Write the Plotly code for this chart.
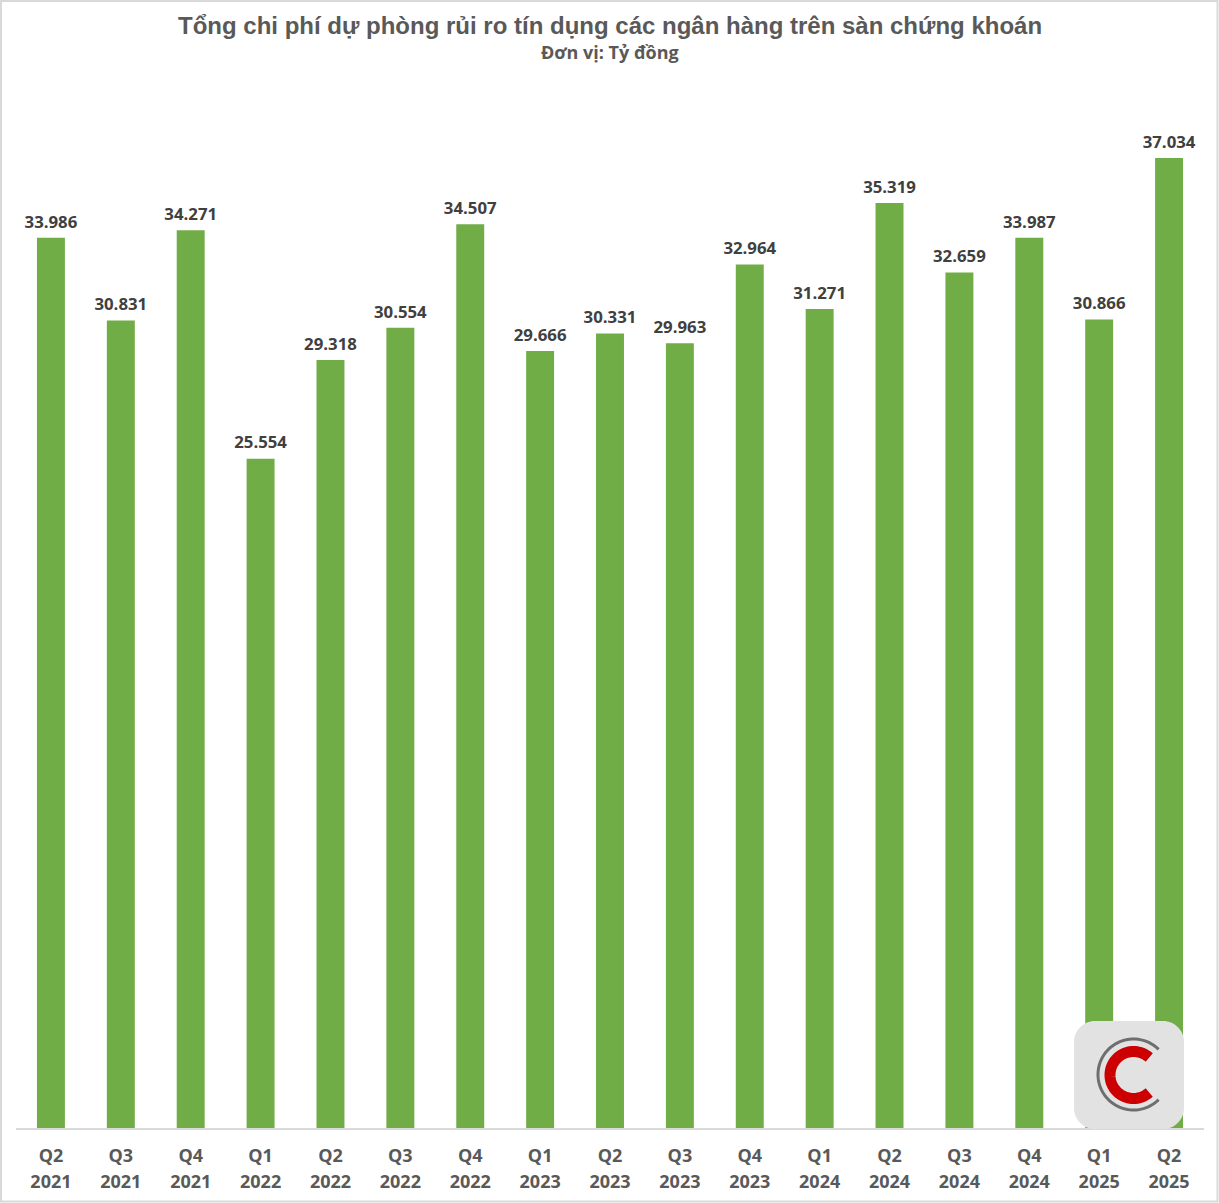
import numpy as np
import plotly.graph_objects as go

W = 1219
H = 1203

# plot area in page pixels
LEFT = 16
RIGHT = 1204
TOP = 100
BOTTOM = 1128

quarters = ["Q2", "Q3", "Q4", "Q1", "Q2", "Q3", "Q4", "Q1", "Q2",
            "Q3", "Q4", "Q1", "Q2", "Q3", "Q4", "Q1", "Q2"]
years = ["2021", "2021", "2021", "2022", "2022", "2022", "2022", "2023", "2023",
         "2023", "2023", "2024", "2024", "2024", "2024", "2025", "2025"]
provisions = [33986, 30831, 34271, 25554, 29318, 30554, 34507, 29666, 30331,
              29963, 32964, 31271, 35319, 32659, 33987, 30866, 37034]

title_text = "Tổng chi phí dự phòng rủi ro tín dụng các ngân hàng trên sàn chứng khoán"
unit_text = "Đơn vị: Tỷ đồng"

GREEN = "#70ad47"
DARK = "#404040"
GRAY = "#595959"


def fmt(v):
    # dot as thousands separator
    return f"{v:,}".replace(",", ".")


def small(s):
    # tick font stays 20 so the two lines sit 26px apart, glyphs are 18
    return f"<span style='font-size:18px'>{s}</span>"


# page pixels -> paper coordinates, for the logo
def px_path(points):
    xs = [(x - LEFT) / (RIGHT - LEFT) for x, y in points]
    ys = [(BOTTOM - y) / (BOTTOM - TOP) for x, y in points]
    return "M" + " L".join(f"{x:.5f},{y:.5f}" for x, y in zip(xs, ys))


def px_arc(cx, cy, r, a0, a1):
    t = np.radians(np.linspace(a0, a1, 80))
    return px_path(list(zip(cx + r * np.cos(t), cy - r * np.sin(t))))


def px_round_rect(x0, y0, x1, y1, r):
    pts = []
    for cx, cy, a in [(x1 - r, y0 + r, 0), (x0 + r, y0 + r, 90),
                      (x0 + r, y1 - r, 180), (x1 - r, y1 - r, 270)]:
        t = np.radians(np.linspace(a, a + 90, 16))
        pts += list(zip(cx + r * np.cos(t), cy - r * np.sin(t)))
    return px_path(pts) + " Z"


positions = list(range(len(provisions)))
ticktext = [f"{small(q)}<br>{small(y)}" for q, y in zip(quarters, years)]

# 37.034 tops out at y=158 on a baseline at y=1128
y_max = 37034 * (BOTTOM - TOP) / (1128 - 158)

fig = go.Figure()
fig.add_trace(go.Bar(
    x=positions,
    y=provisions,
    width=0.4,
    marker=dict(color=GREEN, line=dict(width=0)),
    hoverinfo="skip",
))
# labels on a scatter: the invisible marker sets how far they float above the bar
fig.add_trace(go.Scatter(
    x=positions,
    y=provisions,
    mode="markers+text",
    marker=dict(size=8, opacity=0),
    text=[fmt(v) for v in provisions],
    textposition="top center",
    cliponaxis=False,
    textfont=dict(family="Open Sans", size=16.8, color=DARK, weight="bold"),
    hoverinfo="skip",
))

shapes = [
    # frame of the picture
    dict(type="rect", xref="paper", yref="paper", layer="below",
         x0=(1 - LEFT) / (RIGHT - LEFT), x1=(1217.5 - LEFT) / (RIGHT - LEFT),
         y0=(BOTTOM - 1201.5) / (BOTTOM - TOP), y1=(BOTTOM - 1) / (BOTTOM - TOP),
         line=dict(color="#d9d9d9", width=2), fillcolor="white"),
]

annotations = [
    dict(text=f"<b>{title_text}</b>", xref="paper", yref="paper", showarrow=False,
         x=(609.5 - LEFT) / (RIGHT - LEFT), y=(BOTTOM - 25) / (BOTTOM - TOP),
         xanchor="center", yanchor="middle",
         font=dict(family="Liberation Sans", size=24, color=GRAY)),
    dict(text=f"<b>{unit_text}</b>", xref="paper", yref="paper", showarrow=False,
         x=(609.5 - LEFT) / (RIGHT - LEFT), y=(BOTTOM - 52) / (BOTTOM - TOP),
         xanchor="center", yanchor="middle",
         font=dict(family="Open Sans", size=18, color=GRAY)),
]

fig.update_layout(
    width=W,
    height=H,
    showlegend=False,
    paper_bgcolor="white",
    plot_bgcolor="white",
    margin=dict(l=LEFT, r=W - RIGHT, t=TOP, b=H - BOTTOM, autoexpand=False),
    shapes=shapes,
    annotations=annotations,
    xaxis=dict(
        tickmode="array",
        tickvals=positions,
        ticktext=ticktext,
        range=[-0.5, len(provisions) - 0.5],
        showgrid=False,
        zeroline=False,
        showline=True,
        linecolor="#d9d9d9",
        linewidth=2,
        ticks="",
        tickangle=0,
        ticklabelstandoff=8,
        tickfont=dict(family="Open Sans", size=20, color=GRAY, weight="bold"),
    ),
    yaxis=dict(range=[0, y_max], visible=False),
)

# logo in the bottom right corner
fig.add_shape(type="path", xref="paper", yref="paper", path=px_round_rect(1074, 1021, 1184, 1129, 21),
              fillcolor="#e2e2e2", line=dict(width=0))
fig.add_shape(type="path", xref="paper", yref="paper", path=px_arc(1133.5, 1074.5, 35.5, 45, 315),
              line=dict(color="#6e6e6e", width=3))
fig.add_shape(type="path", xref="paper", yref="paper", path=px_arc(1133.5, 1075, 23.5, 48, 312),
              line=dict(color="#cc0000", width=11))

fig.write_html("out.html", config=dict(displayModeBar=False),
               post_script="document.body.style.margin='0';")
